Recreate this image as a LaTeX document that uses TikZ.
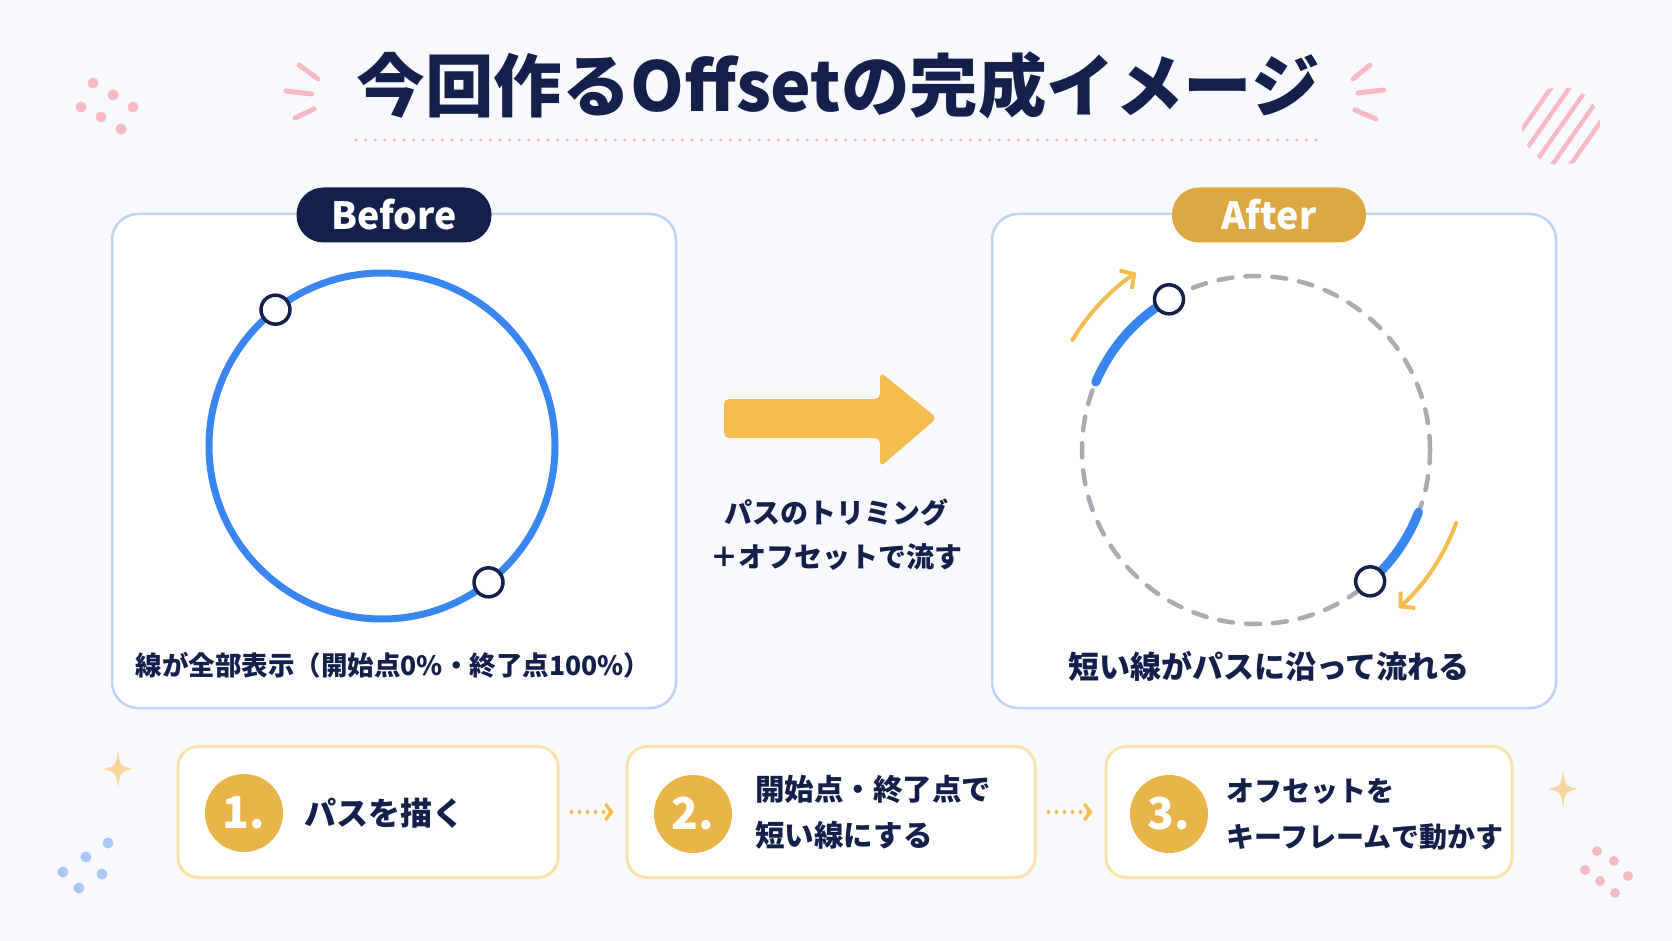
\documentclass[tikz,border=0pt]{standalone}
\usepackage{fontspec}
\setmainfont{Noto Sans CJK JP}
\usetikzlibrary{arrows.meta,calc}
\definecolor{bgc}{HTML}{F8F9FC}
\definecolor{navy}{HTML}{13204C}
\definecolor{ringblue}{HTML}{3A86F0}
\definecolor{panelline}{HTML}{BCD3F6}
\definecolor{pillgold}{HTML}{DDA841}
\definecolor{arrowgold}{HTML}{F2BD4D}
\definecolor{numgold}{HTML}{EAB548}
\definecolor{boxline}{HTML}{FBE2AC}
\definecolor{pinkdeco}{HTML}{F7BAC2}
\definecolor{bluedeco}{HTML}{A9C8F6}
\definecolor{sparkle}{HTML}{F8D59C}
\definecolor{dashgray}{HTML}{A8ABB1}
\tikzset{
  panel/.style={draw=panelline, line width=2.5pt, fill=white, rounded corners=26pt},
  pill/.style={rounded corners=27pt, text=white, minimum height=55pt, inner sep=0pt,
    font=\bfseries\fontsize{37.5}{40}\selectfont},
  handle/.style={circle, draw=navy, line width=3.5pt, fill=white, minimum size=29pt, inner sep=0pt},
  captext/.style={text=navy, inner sep=0pt, font=\bfseries\fontsize{26.5}{32}\selectfont},
  stepbox/.style={draw=boxline, line width=3pt, fill=white, rounded corners=20pt, minimum height=131pt},
  numc/.style={circle, fill=numgold, minimum size=78pt, inner sep=0pt, text=white,
    font=\bfseries\fontsize{44}{48}\selectfont},
  steptext/.style={text=navy, inner sep=0pt, anchor=west, align=left,
    font=\bfseries\fontsize{29.5}{46}\selectfont},
  bluearc/.style={draw=ringblue, line width=9pt, line cap=round},
  flow/.style={draw=arrowgold, line width=4pt, line cap=round,
    -{Straight Barb[length=10pt,width=22pt,line width=4pt]}},
  dotarrow/.style={draw=arrowgold, line width=4pt, line cap=round, dash pattern=on 0pt off 8pt,
    -{Straight Barb[length=6pt,width=16pt,line width=3.5pt]}, shorten <=12pt, shorten >=12pt},
  burst/.style={draw=pinkdeco, line width=5pt, line cap=round},
}
\begin{document}
\begin{tikzpicture}[x=1pt,y=1pt]
\useasboundingbox (0,0) rectangle (1672,-941);
\fill[bgc] (0,0) rectangle (1672,-941);

% ---- title
\node[text=navy, inner sep=0pt, font=\bfseries\fontsize{68.5}{72}\selectfont] (title) at (838,-85) {今回作るOffsetの完成イメージ};
\draw[draw=pinkdeco, line width=3.5pt, line cap=round, dash pattern=on 0pt off 9.6pt] (356,-140) -- (1320,-140);
\draw[burst] (299,-65) -- (318,-79);
\draw[burst] (286,-91) -- (312,-94);
\draw[burst] (295,-118) -- (314,-109);
\draw[burst] (1353,-79) -- (1370,-65);
\draw[burst] (1358,-93) -- (1384,-90);
\draw[burst] (1355,-110) -- (1376,-119);

% ---- decorations
\foreach \p in {(93,-83),(113,-95),(81,-107),(133,-107),(101,-117),(121,-129)}
  \fill[pinkdeco] \p circle[radius=5.5pt];
\foreach \p in {(1597,-851),(1614,-861),(1585,-870),(1628,-876),(1600,-881),(1615,-893)}
  \fill[pinkdeco] \p circle[radius=5pt];
\foreach \p in {(108,-843),(86,-857),(63,-872),(102,-874),(79,-888)}
  \fill[bluedeco] \p circle[radius=5.5pt];
\begin{scope}
  \clip (1561,-126) circle[radius=39pt];
  \foreach \d in {-30,-15,0,15,30}
    \draw[draw=pinkdeco, line width=4.5pt] ($(1561,-126)+(-35:\d)+(55:-60)$) -- ($(1561,-126)+(-35:\d)+(55:60)$);
\end{scope}
\foreach \cx/\cy in {118/-769, 1563/-789}{
  \begin{scope}[shift={(\cx,\cy)}]
    \fill[sparkle] (0,19) .. controls (2,3) .. (15,0) .. controls (2,-3) .. (0,-19)
       .. controls (-2,-3) .. (-15,0) .. controls (-2,3) .. cycle;
  \end{scope}
}

% ---- before panel
\node[panel, minimum width=564pt, minimum height=494pt] (beforepanel) at (394,-461) {};
\node[pill, fill=navy, minimum width=195pt] (beforelabel) at (394,-215) {Before};
\node[circle, draw=ringblue, line width=7pt, minimum size=346pt, inner sep=0pt] (beforering) at (382,-446) {};
\node[handle] (bstart) at ($(beforering.center)+(128:173pt)$) {};
\node[handle] (bend) at ($(beforering.center)+(-52:173pt)$) {};
\node[captext] (beforecap) at (393,-665) {線が全部表示（開始点0\%・終了点100\%）};

% ---- middle arrow
\fill[arrowgold, rounded corners=5pt] (724,-399) -- (880,-399) -- (880,-372) -- (937,-418)
   -- (880,-467) -- (880,-438) -- (724,-438) -- cycle;
\node[text=navy, inner sep=0pt, align=center, font=\bfseries\fontsize{28}{44}\selectfont] (trimtext) at (836,-535)
  {パスのトリミング\\＋オフセットで流す};

% ---- after panel
\node[panel, minimum width=564pt, minimum height=494pt] (afterpanel) at (1274,-461) {};
\node[pill, fill=pillgold, minimum width=194pt] (afterlabel) at (1269,-215) {After};
\node[circle, draw=dashgray, line width=4.5pt, line cap=round, dash pattern=on 14pt off 13pt,
  minimum size=348pt, inner sep=0pt] (afterring) at (1256,-450) {};
\draw[bluearc] ($(afterring.center)+(120:174pt)$) arc[start angle=120, end angle=157, radius=174pt];
\draw[bluearc] ($(afterring.center)+(-49:174pt)$) arc[start angle=-49, end angle=-21, radius=174pt];
\node[handle] (astart) at ($(afterring.center)+(120:174pt)$) {};
\node[handle] (aend) at ($(afterring.center)+(-49:174pt)$) {};
\draw[flow] ($(afterring.center)+(149:214pt)$) arc[start angle=149, end angle=124, radius=214pt];
\draw[flow] ($(afterring.center)+(-20:213pt)$) arc[start angle=-20, end angle=-48, radius=213pt];
\node[captext, font=\bfseries\fontsize{31}{34}\selectfont] (aftercap) at (1269,-666) {短い線がパスに沿って流れる};

% ---- steps
\node[stepbox, minimum width=380pt] (s1) at (368,-812) {};
\node[stepbox, minimum width=408pt] (s2) at (831,-812) {};
\node[stepbox, minimum width=406pt] (s3) at (1309,-812) {};
\node[numc] (n1) at (244,-813) {1.};
\node[numc] (n2) at (693,-814) {2.};
\node[numc] (n3) at (1169,-814) {3.};
\node[steptext, font=\bfseries\fontsize{32}{46}\selectfont] (t1) at (304,-813) {パスを描く};
\node[steptext] (t2) at (755,-812) {開始点・終了点で\\短い線にする};
\node[steptext, font=\bfseries\fontsize{28}{46}\selectfont] (t3) at (1226,-814) {オフセットを\\キーフレームで動かす};
\draw[dotarrow] (s1.east) -- (s2.west);
\draw[dotarrow] (s2.east) -- (s3.west);
\end{tikzpicture}
\end{document}
